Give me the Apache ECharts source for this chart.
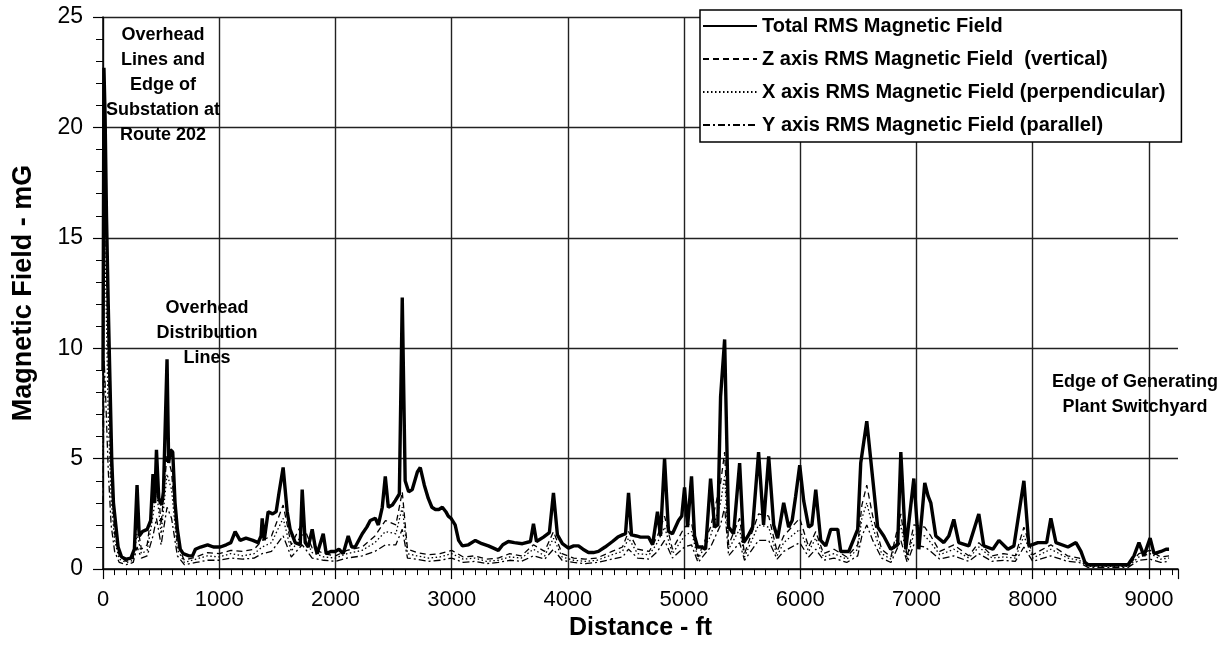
<!DOCTYPE html>
<html>
<head>
<meta charset="utf-8">
<title>RMS Magnetic Field Profile</title>
<script src="https://cdn.jsdelivr.net/npm/echarts@6/dist/echarts.min.js"></script>
<style>
  html, body { margin: 0; padding: 0; background: #fff; }
  #chart { width: 1232px; height: 646px; }
</style>
</head>
<body>
<div id="chart"></div>
<script>
// total RMS field: [distance ft, field mG]
const totalRms = [
  [0, 9.0], [8, 22.7], [18, 20.5], [30, 16.0], [45, 12.0], [60, 8.5], [75, 5.0], [90, 3.0], [110, 2.0], [130, 1.0],
  [160, 0.55], [200, 0.45], [240, 0.5], [270, 0.9], [293, 3.8], [312, 1.5], [340, 1.7], [380, 1.8], [410, 2.2], [430, 4.3],
  [445, 3.0], [460, 5.4], [480, 3.2], [505, 2.9], [520, 3.5], [551, 9.5], [565, 4.8], [580, 5.4], [600, 5.3], [620, 3.0],
  [640, 1.8], [665, 0.9], [690, 0.7], [740, 0.6], [770, 0.6], [795, 0.9], [840, 1.0], [900, 1.1], [950, 1.0], [1010, 1.0],
  [1060, 1.1], [1100, 1.2], [1137, 1.7], [1180, 1.3], [1230, 1.4], [1290, 1.3], [1335, 1.2], [1360, 1.5], [1370, 2.3], [1387, 1.3],
  [1421, 2.6], [1460, 2.5], [1490, 2.6], [1516, 3.5], [1550, 4.6], [1585, 2.6], [1610, 1.8], [1654, 1.2], [1697, 1.1], [1714, 3.6],
  [1740, 1.2], [1766, 1.0], [1800, 1.8], [1826, 1.0], [1843, 0.7], [1895, 1.6], [1921, 0.7], [1960, 0.8], [1998, 0.8], [2030, 0.9],
  [2067, 0.7], [2110, 1.5], [2140, 1.0], [2170, 1.0], [2231, 1.6], [2270, 1.9], [2300, 2.2], [2343, 2.3], [2369, 2.0], [2403, 2.8],
  [2429, 4.2], [2455, 2.8], [2490, 2.9], [2515, 3.1], [2550, 3.4], [2575, 12.3], [2600, 4.0], [2630, 3.5], [2661, 3.6], [2705, 4.4],
  [2730, 4.6], [2765, 3.8], [2799, 3.2], [2830, 2.8], [2860, 2.7], [2890, 2.7], [2920, 2.8], [2950, 2.6], [2971, 2.4], [2995, 2.3],
  [3030, 2.0], [3060, 1.3], [3092, 1.05], [3144, 1.1], [3204, 1.3], [3260, 1.15], [3316, 1.05], [3360, 0.95], [3402, 0.85], [3440, 1.1],
  [3488, 1.25], [3540, 1.2], [3609, 1.15], [3678, 1.25], [3704, 2.05], [3730, 1.25], [3790, 1.45], [3841, 1.65], [3876, 3.45], [3910, 1.55],
  [3953, 1.15], [4005, 0.95], [4050, 1.05], [4091, 1.05], [4130, 0.9], [4177, 0.75], [4220, 0.75], [4263, 0.8], [4320, 1.0], [4384, 1.25],
  [4430, 1.45], [4470, 1.55], [4496, 1.6], [4522, 3.45], [4548, 1.55], [4590, 1.5], [4625, 1.45], [4694, 1.45], [4729, 1.1], [4771, 2.6],
  [4797, 1.5], [4832, 5.0], [4866, 1.7], [4900, 1.6], [4952, 2.2], [4980, 2.4], [5004, 3.7], [5030, 1.9], [5064, 4.2], [5090, 1.5],
  [5116, 1.0], [5150, 1.0], [5185, 0.9], [5228, 4.1], [5262, 1.9], [5290, 2.0], [5314, 7.8], [5349, 10.4], [5383, 1.9], [5426, 1.6],
  [5478, 4.8], [5512, 1.2], [5550, 1.5], [5590, 1.9], [5641, 5.3], [5684, 2.0], [5728, 5.1], [5771, 2.0], [5805, 1.4], [5857, 3.0],
  [5900, 1.9], [5930, 2.2], [5960, 3.3], [5995, 4.7], [6029, 3.1], [6072, 1.9], [6100, 2.0], [6133, 3.6], [6176, 1.3], [6219, 1.05],
  [6262, 1.8], [6322, 1.8], [6348, 0.8], [6417, 0.8], [6494, 1.8], [6520, 4.8], [6572, 6.7], [6623, 4.1], [6666, 1.9], [6718, 1.5],
  [6778, 0.9], [6838, 1.1], [6865, 5.3], [6908, 0.9], [6977, 4.1], [7020, 0.9], [7071, 3.9], [7100, 3.3], [7123, 3.0], [7166, 1.5],
  [7235, 1.2], [7278, 1.5], [7321, 2.25], [7364, 1.2], [7450, 1.05], [7536, 2.5], [7579, 1.05], [7657, 0.9], [7709, 1.3], [7786, 0.9],
  [7838, 1.05], [7924, 4.0], [7967, 1.05], [8045, 1.2], [8120, 1.2], [8156, 2.3], [8200, 1.2], [8303, 1.0], [8372, 1.2], [8415, 0.8],
  [8450, 0.3], [8475, 0.2], [8820, 0.2], [8871, 0.6], [8914, 1.2], [8957, 0.6], [9010, 1.4], [9044, 0.7], [9104, 0.8], [9147, 0.9],
  [9173, 0.9]
]

// component fields share this distance list (ft)
const compDist = [
  0, 10, 25, 45, 70, 100, 140, 200, 260, 293,
  330, 380, 430, 460, 500, 551, 590, 640, 700, 800,
  900, 1000, 1100, 1200, 1300, 1370, 1450, 1550, 1620, 1714,
  1800, 1900, 2000, 2100, 2230, 2340, 2430, 2520, 2575, 2620,
  2700, 2800, 2900, 3000, 3100, 3200, 3300, 3400, 3500, 3600,
  3704, 3800, 3876, 3950, 4050, 4150, 4250, 4380, 4470, 4522,
  4600, 4700, 4771, 4832, 4900, 5004, 5064, 5120, 5228, 5314,
  5349, 5383, 5478, 5520, 5641, 5728, 5800, 5857, 5995, 6072,
  6133, 6200, 6290, 6400, 6494, 6530, 6572, 6623, 6700, 6780,
  6865, 6920, 6977, 7071, 7123, 7200, 7321, 7450, 7536, 7650,
  7750, 7850, 7924, 8000, 8156, 8300, 8400, 8475, 8820, 8914,
  9010, 9100, 9173
]
const zRms = [
  6.5, 19.5, 15.0, 9.5, 4.2, 1.6, 0.6, 0.35, 0.5, 2.1,
  0.9, 1.1, 3.1, 4.6, 2.0, 5.2, 4.4, 1.1, 0.4, 0.55,
  0.75, 0.7, 0.85, 0.8, 0.9, 1.3, 1.5, 2.9, 1.1, 2.1,
  0.95, 0.7, 0.6, 0.85, 1.0, 1.5, 2.2, 2.0, 3.5, 0.9,
  0.75, 0.65, 0.7, 0.85, 0.55, 0.6, 0.45, 0.5, 0.7, 0.6,
  1.1, 0.8, 1.7, 0.7, 0.5, 0.45, 0.5, 0.8, 1.0, 1.7,
  0.9, 0.8, 1.5, 2.4, 0.9, 1.9, 2.1, 0.55, 1.9, 3.9,
  5.3, 1.1, 2.3, 0.7, 2.5, 2.4, 0.8, 1.5, 2.3, 1.0,
  1.7, 0.7, 0.9, 0.55, 1.1, 2.9, 3.8, 2.4, 0.9, 0.55,
  2.5, 0.55, 2.0, 1.9, 1.5, 0.8, 1.1, 0.6, 1.2, 0.6,
  0.7, 0.6, 1.9, 0.65, 1.1, 0.6, 0.5, 0.15, 0.15, 0.7,
  0.85, 0.55, 0.6
]
const xRms = [
  4.8, 16.0, 12.5, 7.0, 3.2, 1.3, 0.45, 0.3, 0.4, 1.6,
  0.7, 0.85, 2.4, 3.6, 1.6, 4.3, 3.6, 0.9, 0.3, 0.45,
  0.6, 0.55, 0.7, 0.6, 0.7, 1.0, 1.2, 2.3, 0.8, 1.6,
  0.75, 0.55, 0.5, 0.7, 0.85, 1.2, 1.7, 1.6, 2.8, 0.7,
  0.6, 0.5, 0.55, 0.7, 0.45, 0.5, 0.35, 0.4, 0.55, 0.5,
  0.9, 0.6, 1.4, 0.55, 0.4, 0.35, 0.4, 0.65, 0.8, 1.4,
  0.7, 0.65, 1.2, 1.9, 0.7, 1.5, 1.7, 0.45, 1.5, 3.0,
  4.2, 0.9, 1.8, 0.55, 2.0, 1.9, 0.6, 1.2, 1.8, 0.8,
  1.4, 0.55, 0.7, 0.45, 0.9, 2.3, 3.0, 1.9, 0.7, 0.45,
  2.0, 0.45, 1.6, 1.5, 1.2, 0.65, 0.9, 0.5, 1.0, 0.5,
  0.55, 0.5, 1.5, 0.5, 0.9, 0.5, 0.4, 0.12, 0.12, 0.55,
  0.7, 0.45, 0.5
]
const yRms = [
  3.0, 9.5, 7.5, 4.5, 2.0, 0.8, 0.3, 0.2, 0.3, 1.0,
  0.5, 0.6, 1.5, 2.3, 1.1, 2.8, 2.3, 0.6, 0.2, 0.3,
  0.4, 0.4, 0.5, 0.45, 0.5, 0.7, 0.8, 1.5, 0.55, 1.1,
  0.5, 0.4, 0.35, 0.5, 0.6, 0.8, 1.1, 1.1, 1.8, 0.5,
  0.45, 0.35, 0.4, 0.5, 0.3, 0.35, 0.25, 0.3, 0.4, 0.35,
  0.6, 0.45, 0.9, 0.4, 0.3, 0.25, 0.3, 0.45, 0.55, 0.9,
  0.5, 0.45, 0.8, 1.3, 0.5, 1.0, 1.1, 0.3, 1.0, 2.0,
  2.8, 0.6, 1.2, 0.4, 1.3, 1.3, 0.45, 0.8, 1.2, 0.55,
  0.9, 0.4, 0.5, 0.3, 0.6, 1.5, 2.0, 1.3, 0.5, 0.3,
  1.3, 0.3, 1.1, 1.0, 0.8, 0.45, 0.6, 0.35, 0.7, 0.35,
  0.4, 0.35, 1.0, 0.35, 0.6, 0.35, 0.3, 0.08, 0.08, 0.4,
  0.45, 0.3, 0.35
]

const seriesNames = [
  'Total RMS Magnetic Field',
  'Z axis RMS Magnetic Field  (vertical)',
  'X axis RMS Magnetic Field (perpendicular)',
  'Y axis RMS Magnetic Field (parallel)'
]

const FONT = "'Liberation Sans', Arial, sans-serif"
const zip = (xs, ys) => xs.map((x, i) => [x, ys[i]])

const chart = echarts.init(document.getElementById('chart'))

const compLine = (name, values, dash) => ({
  name: name,
  type: 'line',
  data: zip(compDist, values),
  symbol: 'none',
  color: '#000',
  lineStyle: { color: '#000', width: 1.3, type: dash },
  z: 3
})

const option = {
  backgroundColor: '#fff',
  animation: false,
  grid: { left: 103, right: 54, top: 17, bottom: 74 },
  legend: {
    orient: 'vertical',
    left: 700,
    top: 10,
    padding: [6, 16, 7, 2],
    itemWidth: 54,
    itemHeight: 14,
    itemGap: 13,
    backgroundColor: '#fff',
    borderColor: '#000',
    borderWidth: 1.5,
    selectedMode: false,
    itemStyle: { opacity: 0 },
    textStyle: { fontFamily: FONT, fontSize: 20, fontWeight: 'bold', color: '#000', lineHeight: 20 },
    data: seriesNames
  },
  xAxis: {
    type: 'value',
    min: 0,
    max: 9250,
    interval: 1000,
    name: 'Distance - ft',
    nameLocation: 'middle',
    nameGap: 46,
    nameTextStyle: { fontFamily: FONT, fontSize: 25, fontWeight: 'bold', color: '#000' },
    axisLine: { lineStyle: { color: '#000', width: 1.5 } },
    axisTick: { length: 10, lineStyle: { color: '#000', width: 1.2 } },
    minorTick: { show: true, splitNumber: 10, length: 6, lineStyle: { color: '#000', width: 1 } },
    axisLabel: {
      fontFamily: FONT, fontSize: 22, color: '#000', margin: 20, showMaxLabel: false,
      formatter: v => String(v)
    },
    splitLine: { show: true, showMaxLine: false, lineStyle: { color: '#222', width: 1.4 } }
  },
  yAxis: {
    type: 'value',
    min: 0,
    max: 25,
    interval: 5,
    name: 'Magnetic Field - mG',
    nameLocation: 'middle',
    nameGap: 66,
    nameTextStyle: { fontFamily: FONT, fontSize: 27, fontWeight: 'bold', color: '#000' },
    axisLine: { show: true, lineStyle: { color: '#000', width: 1.5 } },
    axisTick: { show: true, length: 10, lineStyle: { color: '#000', width: 1.2 } },
    minorTick: { show: true, splitNumber: 5, length: 7, lineStyle: { color: '#000', width: 1 } },
    axisLabel: { fontFamily: FONT, fontSize: 23, color: '#000', margin: 20 },
    splitLine: { lineStyle: { color: '#222', width: 1.4 } }
  },
  graphic: [
    {
      type: 'text', z: 10,
      style: {
        x: 163, y: 23, text: 'Overhead\nLines and\nEdge of\nSubstation at\nRoute 202',
        font: 'bold 18px ' + FONT, textAlign: 'center', textVerticalAlign: 'top', lineHeight: 25, fill: '#000'
      }
    },
    {
      type: 'text', z: 10,
      style: {
        x: 207, y: 296, text: 'Overhead\nDistribution\nLines',
        font: 'bold 18px ' + FONT, textAlign: 'center', textVerticalAlign: 'top', lineHeight: 25, fill: '#000'
      }
    },
    {
      type: 'text', z: 10,
      style: {
        x: 1135, y: 370, text: 'Edge of Generating\nPlant Switchyard',
        font: 'bold 18px ' + FONT, textAlign: 'center', textVerticalAlign: 'top', lineHeight: 25, fill: '#000'
      }
    }
  ],
  series: [
    {
      name: seriesNames[0],
      type: 'line',
      data: totalRms,
      symbol: 'none',
      color: '#000',
      lineStyle: { color: '#000', width: 3.4 },
      z: 5
    },
    compLine(seriesNames[1], zRms, [6, 4]),
    compLine(seriesNames[2], xRms, [1.5, 2.5]),
    compLine(seriesNames[3], yRms, [7, 3, 2, 3])
  ]
}

chart.setOption(option)
</script>
</body>
</html>
